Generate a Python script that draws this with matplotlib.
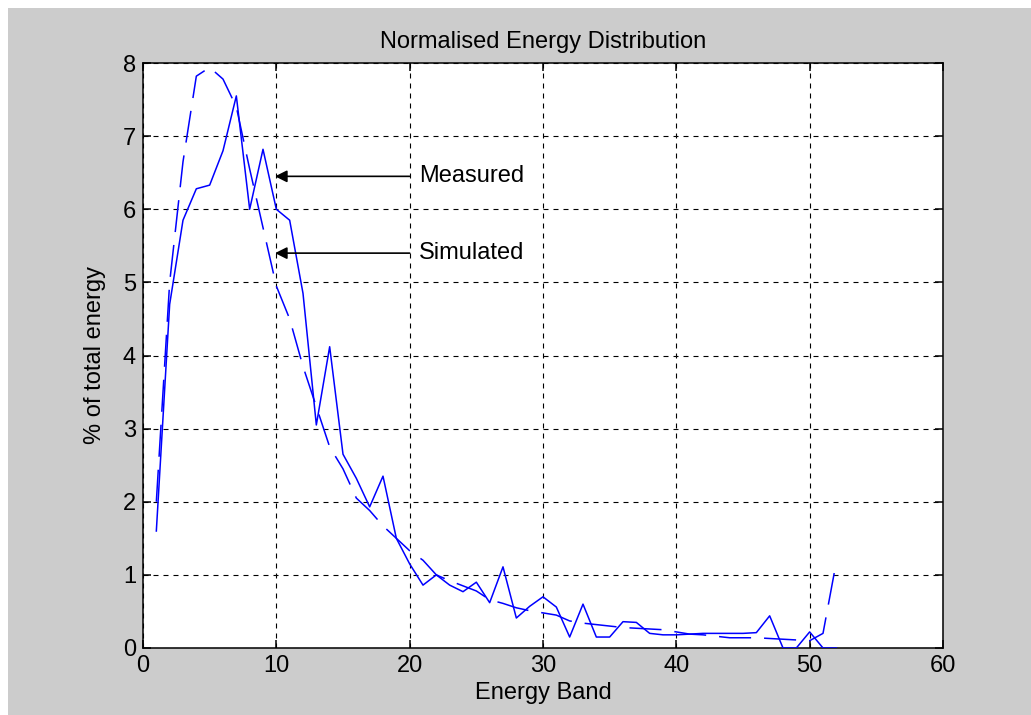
#!/usr/bin/env python3
# -*- coding: utf-8 -*-
"""
Normalised energy distribution per energy band, measured vs simulated.
"""

import numpy as np
import matplotlib
matplotlib.use('Agg')
import matplotlib.pyplot as plt
from matplotlib.patches import Rectangle

# energy bands
band = np.arange(1, 53)

# % of total energy, measured
measured = [1.6, 4.7, 5.85, 6.28, 6.33, 6.8, 7.55, 6.0, 6.82, 6.0,
            5.85, 4.85, 3.05, 4.12, 2.65, 2.32, 1.93, 2.35, 1.5, 1.15,
            0.86, 1.0, 0.86, 0.77, 0.9, 0.62, 1.11, 0.41, 0.57, 0.7,
            0.56, 0.15, 0.6, 0.15, 0.15, 0.36, 0.35, 0.2, 0.18, 0.18,
            0.19, 0.2, 0.2, 0.2, 0.2, 0.21, 0.44, 0.0, 0.0, 0.22,
            0.0, 0.0]

# % of total energy, simulated
simulated = [2.0, 5.0, 6.65, 7.82, 7.94, 7.78, 7.4, 6.55, 5.75, 4.95,
             4.5, 3.85, 3.3, 2.75, 2.45, 2.05, 1.88, 1.67, 1.5, 1.33,
             1.2, 1.0, 0.92, 0.85, 0.78, 0.66, 0.61, 0.55, 0.51, 0.48,
             0.45, 0.37, 0.34, 0.32, 0.3, 0.28, 0.27, 0.26, 0.25, 0.22,
             0.19, 0.18, 0.16, 0.14, 0.14, 0.14, 0.13, 0.12, 0.11, 0.1,
             0.2, 1.18]

xticks = [0, 10, 20, 30, 40, 50, 60]
yticks = [0, 1, 2, 3, 4, 5, 6, 7, 8]

# arrow labels: (text, y level)
labels = [('Measured', 6.45), ('Simulated', 5.4)]

plt.rcParams['font.family'] = ['Liberation Sans', 'DejaVu Sans']
fs = 17

fig = plt.figure(figsize=(10.31, 7.15), dpi=100)
fig.patch.set_facecolor('white')
# grey window background with a thin white border on top/left
fig.patches.append(Rectangle((8/1031., 0), 1 - 8/1031., 707/715.,
                             transform=fig.transFigure, facecolor='#cccccc',
                             edgecolor='none', zorder=-10))

ax = fig.add_axes([143/1031., 67/715., 800/1031., 585/715.])
ax.set_facecolor('white')

ax.plot(band, measured, color='#0000ff', lw=1.1, zorder=3)
ax.plot(band, simulated, color='#0000ff', lw=1.1, linestyle=(0, (21, 8.5)), zorder=3)

ax.set_xlim(0, 60)
ax.set_ylim(0, 8)
ax.set_xticks(xticks)
ax.set_yticks(yticks)
ax.tick_params(direction='in', length=6, width=1.1, top=True, right=True,
               labelsize=fs, colors='black', pad=5)
for s in ax.spines.values():
    s.set_linewidth(1.1)
    s.set_color('black')
ax.grid(True, color='black', linestyle=(0, (4.5, 4.5)), lw=0.8)

for txt, yv in labels:
    ax.annotate('', xy=(9.9, yv), xytext=(20.0, yv),
                arrowprops=dict(arrowstyle='-|>', color='black', lw=1.2,
                                mutation_scale=18, shrinkA=0, shrinkB=0),
                zorder=4)
    ax.text(20.7, yv, txt, fontsize=fs, va='center', ha='left', zorder=4)

ax.set_title('Normalised Energy Distribution', fontsize=fs, pad=11)
ax.set_xlabel('Energy Band', fontsize=fs, labelpad=4)
ax.set_ylabel('% of total energy', fontsize=fs, labelpad=12)

fig.savefig('out.png', dpi=100, facecolor=fig.get_facecolor())
